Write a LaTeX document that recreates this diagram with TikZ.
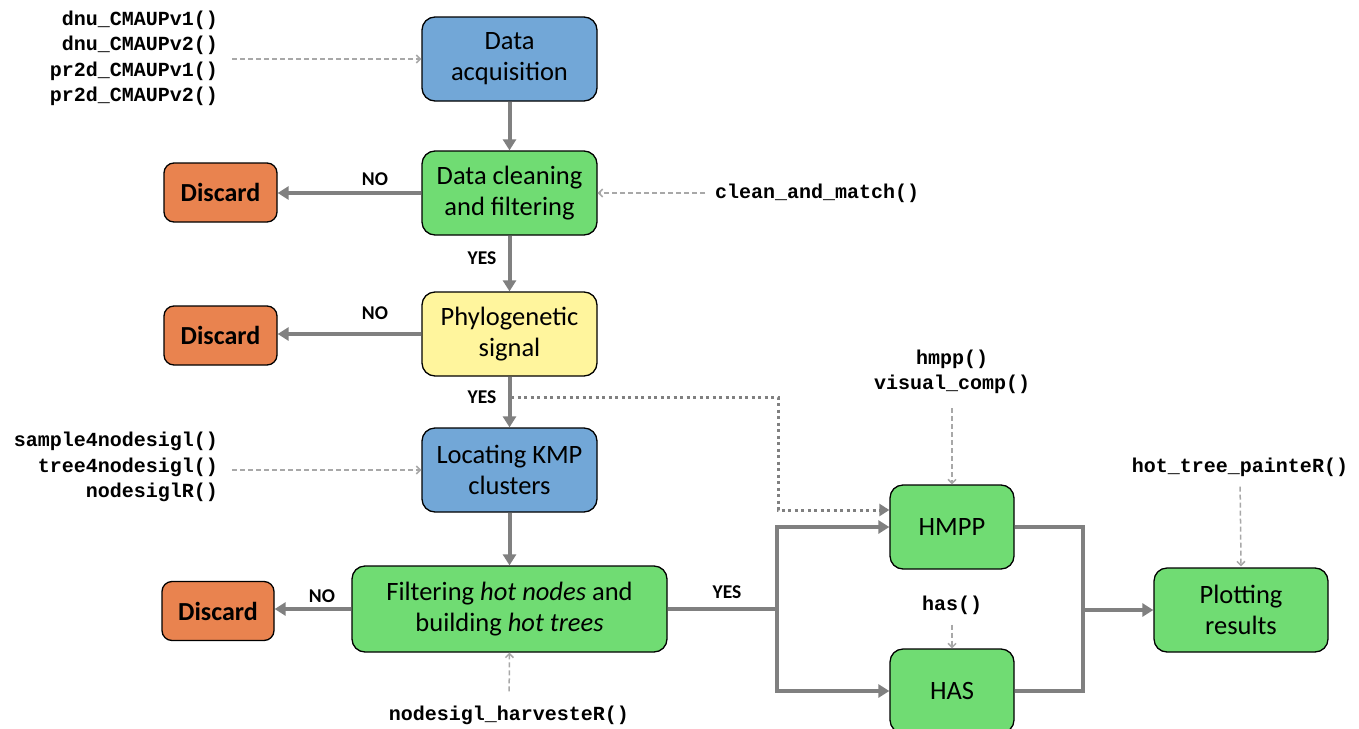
\documentclass[tikz,border=0pt]{standalone}
\usepackage{fontspec}
\setmainfont{Carlito}
\setmonofont{Liberation Mono}
\usetikzlibrary{arrows.meta,calc}
\definecolor{cblue}{HTML}{72A7D7}
\definecolor{cgreen}{HTML}{70DC73}
\definecolor{cyellow}{HTML}{FFF59D}
\definecolor{corange}{HTML}{E9834F}
\definecolor{cflow}{HTML}{808080}
\definecolor{cdash}{HTML}{A8A8A8}
\tikzset{
  box/.style={draw=black, line width=1.3pt, rounded corners=13pt, align=center,
    minimum width=175pt, minimum height=84pt, inner sep=0pt,
    font=\fontsize{26.5}{31}\selectfont},
  bluebox/.style={box, fill=cblue},
  greenbox/.style={box, fill=cgreen},
  yellowbox/.style={box, fill=cyellow},
  discardbox/.style={box, fill=corange, minimum width=113pt, minimum height=59pt,
    rounded corners=10pt, font=\fontsize{26}{30}\selectfont\bfseries},
  flow/.style={draw=cflow, line width=4pt, -{Triangle[length=11pt,width=13pt]}},
  flowline/.style={draw=cflow, line width=4pt},
  helper/.style={draw=cdash, line width=1.5pt, dash pattern=on 5pt off 3pt,
    -{Straight Barb[length=4pt,width=8pt]}},
  dotflow/.style={draw=cflow, line width=3pt, dash pattern=on 3pt off 3.5pt,
    -{Triangle[length=10pt,width=12pt]}},
  fn/.style={font=\fontsize{20}{25.5}\selectfont\ttfamily\bfseries, inner sep=0pt},
  lab/.style={font=\fontsize{19.5}{22}\selectfont\bfseries, inner sep=0pt}
}
\begin{document}
\begin{tikzpicture}[x=1pt,y=-1pt]
\clip (0,0) rectangle (1359,728);
\fill[white] (0,0) rectangle (1359,728);

% main boxes
\node[bluebox] (acq) at (509.5,59) {Data\\acquisition};
\node[greenbox] (clean) at (509.5,193) {Data cleaning\\and filtering};
\node[yellowbox] (phylo) at (509.5,334) {Phylogenetic\\signal};
\node[bluebox] (kmp) at (509.5,470) {Locating KMP\\clusters};
\node[greenbox, minimum width=315pt, minimum height=86pt] (filt) at (509.5,609)
  {Filtering \textit{hot nodes} and\\building \textit{hot trees}};
\node[greenbox, minimum width=124pt] (hmpp) at (952,527) {HMPP};
\node[greenbox, minimum width=124pt] (has) at (952,691) {HAS};
\node[greenbox, minimum width=174pt] (plot) at (1241,610) {Plotting\\results};

\node[discardbox] (d1) at (220.5,192.5) {Discard};
\node[discardbox] (d2) at (220.5,335.5) {Discard};
\node[discardbox, minimum width=112pt] (d3) at (218,611) {Discard};

% function labels
\node[fn, align=right, anchor=east] (f1) at (218,58.5)
  {dnu\_CMAUPv1()\\dnu\_CMAUPv2()\\pr2d\_CMAUPv1()\\pr2d\_CMAUPv2()};
\node[fn, align=right, anchor=east] (f2) at (218,467)
  {sample4nodesigl()\\tree4nodesigl()\\nodesiglR()};
\node[fn, anchor=west] (f3) at (715,193) {clean\_and\_match()};
\node[fn, align=center] (f4) at (952,372) {hmpp()\\visual\_comp()};
\node[fn] (f5) at (952,605) {has()};
\node[fn] (f6) at (1240,467) {hot\_tree\_painteR()};
\node[fn] (f7) at (509,715) {nodesigl\_harvesteR()};

% yes / no labels
\node[lab] (y1) at (482,258) {YES};
\node[lab] (y2) at (482,397) {YES};
\node[lab] (y3) at (727,592) {YES};
\node[lab] (n1) at (375,179) {NO};
\node[lab] (n2) at (375,313) {NO};
\node[lab] (n3) at (322,596) {NO};

% coordinates
\coordinate (sp) at (777,609);
\coordinate (mg) at (1083,610);
\coordinate (dstart) at (511,397);
\coordinate (dturn) at (778,397);
\coordinate (dend) at ($(hmpp.west)+(0,-17)$);

% main flow
\draw[flow] (acq) -- (clean);
\draw[flow] (clean) -- (phylo);
\draw[flow] (phylo) -- (kmp);
\draw[flow] (kmp) -- (filt);
\draw[flow] (clean.west) -- (clean.west -| d1.east);
\draw[flow] (phylo.west) -- (phylo.west -| d2.east);
\draw[flow] (filt.west) -- (filt.west -| d3.east);

\draw[flowline] (filt.east) -- (sp);
\draw[flow] (sp) |- (hmpp.west);
\draw[flow] (sp) |- (has.west);
\draw[flowline, line join=miter] (hmpp.east) -| (mg);
\draw[flowline, line join=miter] (has.east) -| (mg);
\draw[flow] (mg) -- (plot.west);

\draw[dotflow] (dstart) -- (dturn) |- (dend);

% helper arrows
\draw[helper, shorten <=14pt] (f1.east |- acq.west) -- (acq.west);
\draw[helper, shorten <=14pt] (f2.east |- kmp.west) -- (kmp.west);
\draw[helper, shorten <=10pt] (f3.west) -- (clean.east);
\draw[helper, shorten <=14pt] (f4.south) -- (hmpp.north);
\draw[helper, shorten <=10pt] (f5.south) -- (has.north);
\draw[helper, shorten <=10pt, shorten >=1pt] (f6.south) -- (plot.north);
\draw[helper, shorten <=14pt] (f7.north) -- (filt.south);
\end{tikzpicture}
\end{document}
